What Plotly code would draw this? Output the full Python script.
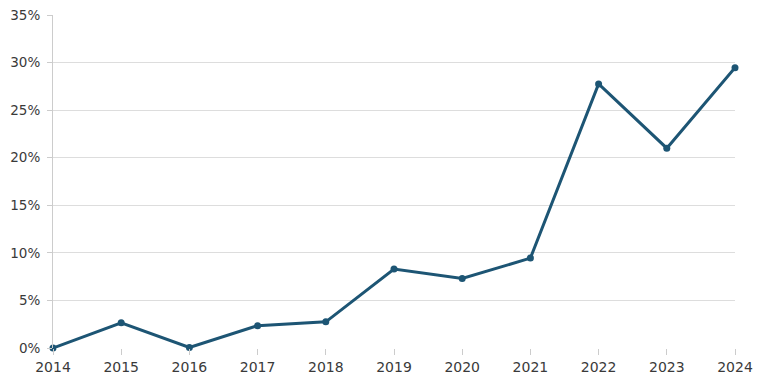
import plotly.graph_objects as go

years = [2014, 2015, 2016, 2017, 2018, 2019, 2020, 2021, 2022, 2023, 2024]
values = [0.0, 2.65, 0.05, 2.35, 2.75, 8.3, 7.3, 9.45, 27.75, 21.0, 29.45]
y_ticks = [0, 5, 10, 15, 20, 25, 30, 35]
y_labels = [f"{v}%" for v in y_ticks]

fig = go.Figure()
fig.add_trace(go.Scatter(
    x=years, y=values, mode="lines+markers",
    line=dict(color="#1d5574", width=3),
    marker=dict(color="#1d5574", size=7),
    cliponaxis=False,
))
fig.update_layout(
    width=768, height=384,
    margin=dict(l=45, r=41, t=7, b=44, autoexpand=False),
    paper_bgcolor="white", plot_bgcolor="white",
    showlegend=False,
    font=dict(family="DejaVu Sans", size=14, color="#3a3a3a"),
)
fig.update_xaxes(
    range=[2014, 2024], tickvals=years, ticktext=[str(y) for y in years],
    showgrid=False, zeroline=False, showline=False, automargin=False,
    ticks="outside", ticklen=6, tickcolor="#cccccc", tickwidth=1,
    ticklabeloverflow="allow",
)
fig.update_yaxes(
    range=[0, 35], tickvals=y_ticks, ticktext=y_labels, automargin=False,
    showgrid=True, gridcolor="#dddddd", gridwidth=1, zeroline=False,
    showline=True, linecolor="#cccccc", linewidth=1,
    ticks="outside", ticklen=5, tickcolor="#cccccc",
    ticklabeloverflow="allow", ticklabelstandoff=4,
    tickfont=dict(size=13.5),
)
fig.write_html("out.html")
